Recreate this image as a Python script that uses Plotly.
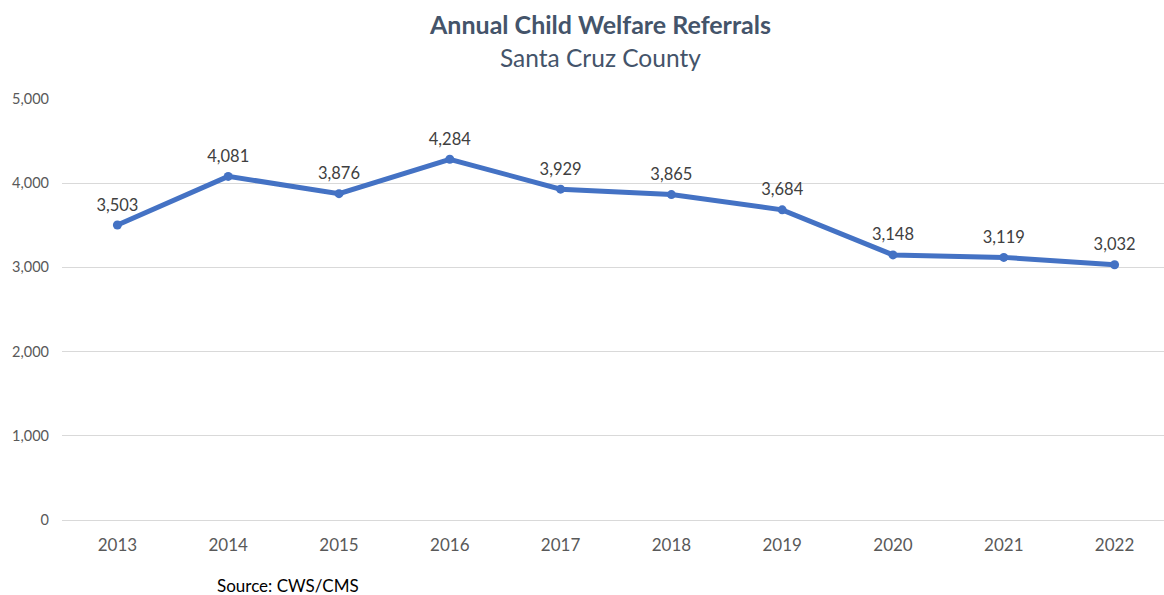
import plotly.graph_objects as go

years = ["2013", "2014", "2015", "2016", "2017", "2018", "2019", "2020", "2021", "2022"]
referrals = [3503, 4081, 3876, 4284, 3929, 3865, 3684, 3148, 3119, 3032]
y_ticks = [0, 1000, 2000, 3000, 4000, 5000]

FONT = "Lato, Open Sans, sans-serif"
W, H = 1164, 595
ML, MR, MT, MB = 62, 0, 99, 75
plot_w = W - ML - MR
plot_h = H - MT - MB


def px_x(x):
    return (x - ML) / plot_w


def px_y(y):
    return (H - MB - y) / plot_h


fig = go.Figure()
# the line with its point markers
fig.add_trace(go.Scatter(
    x=years,
    y=referrals,
    mode="lines+markers",
    line=dict(color="#4472C4", width=5),
    marker=dict(color="#4472C4", size=9),
    hoverinfo="x+y",
))
# value labels, set above each point by a larger transparent marker
fig.add_trace(go.Scatter(
    x=years,
    y=referrals,
    mode="markers+text",
    marker=dict(color="rgba(0,0,0,0)", size=15),
    text=[f"{v:,}" for v in referrals],
    textposition="top center",
    textfont=dict(family=FONT, size=16.5, color="#404040"),
    cliponaxis=False,
    hoverinfo="skip",
))

fig.update_layout(
    width=W,
    height=H,
    margin=dict(l=ML, r=MR, t=MT, b=MB),
    paper_bgcolor="white",
    plot_bgcolor="white",
    showlegend=False,
    font=dict(family=FONT, color="#595959"),
    annotations=[
        dict(text="<b>Annual Child Welfare Referrals</b>", x=px_x(600), y=px_y(24),
             xref="paper", yref="paper", showarrow=False, yanchor="middle",
             font=dict(family=FONT, size=25, color="#44546A")),
        dict(text="Santa Cruz County", x=px_x(600), y=px_y(58),
             xref="paper", yref="paper", showarrow=False, yanchor="middle",
             font=dict(family=FONT, size=24.5, color="#44546A")),
        dict(text="Source: CWS/CMS", x=px_x(215), y=px_y(585),
             xref="paper", yref="paper", showarrow=False, xanchor="left", yanchor="middle",
             font=dict(family=FONT, size=17, color="#000000")),
    ],
)

fig.update_xaxes(
    type="category",
    range=[-0.5, 9.446],
    showgrid=False,
    showline=False,
    ticks="",
    tickfont=dict(size=17, color="#595959"),
    ticklabelstandoff=13,
)
fig.update_yaxes(
    range=[0, 5000],
    tickvals=y_ticks,
    tickformat=",",
    showgrid=True,
    gridcolor="#D9D9D9",
    gridwidth=1,
    zeroline=True,
    zerolinecolor="#D9D9D9",
    zerolinewidth=1,
    showline=False,
    ticks="",
    tickfont=dict(size=14.5, color="#595959"),
    ticklabelstandoff=12,
)

fig.write_html("out.html")
